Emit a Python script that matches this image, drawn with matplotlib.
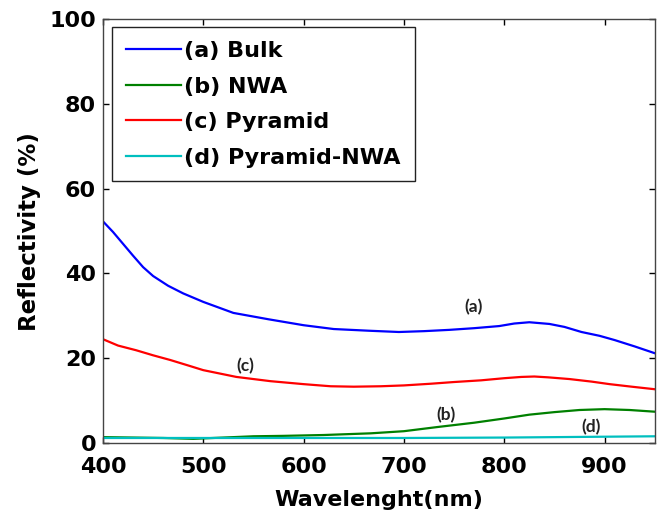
import matplotlib
matplotlib.use("Agg")
import matplotlib.pyplot as plt

# reflectivity spectra (wavelength in nm, reflectivity in %)
wl_bulk = [400, 410, 420, 430, 440, 450, 465, 480, 500, 530, 565, 600, 630, 665,
           695, 720, 745, 770, 795, 810, 825, 845, 860, 877, 895, 910, 930, 950]
r_bulk = [52.3, 49.8, 47.0, 44.2, 41.5, 39.4, 37.1, 35.3, 33.3, 30.7, 29.2, 27.8,
          26.9, 26.5, 26.2, 26.4, 26.7, 27.1, 27.6, 28.2, 28.5, 28.1, 27.4, 26.2,
          25.3, 24.3, 22.8, 21.2]

wl_pyr = [400, 415, 433, 450, 467, 485, 500, 533, 567, 600, 627, 650, 677, 700,
          727, 750, 777, 800, 817, 830, 844, 865, 887, 905, 927, 950]
r_pyr = [24.5, 23.0, 21.9, 20.7, 19.6, 18.3, 17.2, 15.6, 14.6, 13.9, 13.4, 13.3,
         13.4, 13.6, 14.0, 14.4, 14.8, 15.3, 15.6, 15.7, 15.5, 15.1, 14.5, 13.9,
         13.3, 12.7]

wl_nwa = [400, 430, 460, 490, 520, 550, 580, 620, 667, 700, 734, 770, 800, 825,
          850, 875, 900, 925, 950]
r_nwa = [1.4, 1.3, 1.2, 1.0, 1.3, 1.6, 1.7, 1.9, 2.3, 2.8, 3.8, 4.8, 5.8, 6.7,
         7.3, 7.8, 8.0, 7.8, 7.4]

wl_pn = [400, 500, 600, 700, 800, 900, 950]
r_pn = [1.2, 1.2, 1.2, 1.2, 1.3, 1.5, 1.6]

labels = ["(a) Bulk", "(b) NWA", "(c) Pyramid", "(d) Pyramid-NWA"]
colors = ["#0000ff", "#008000", "#ff0000", "#00bfbf"]

tags = ["(a)", "(b)", "(c)", "(d)"]
tag_x = [769, 742, 542, 887]
tag_y = [32.0, 6.6, 18.1, 3.8]

xticks = [400, 500, 600, 700, 800, 900]
yticks = [0, 20, 40, 60, 80, 100]

plt.rcParams["font.family"] = ["DejaVu Sans"]
plt.rcParams["font.weight"] = "bold"

fig = plt.figure(figsize=(6.6, 5.17), dpi=100)
ax = fig.add_axes([0.156, 0.143, 0.836, 0.82])

series = [(wl_bulk, r_bulk), (wl_nwa, r_nwa), (wl_pyr, r_pyr), (wl_pn, r_pn)]
for (wx, ry), lab, col in zip(series, labels, colors):
    ax.plot(wx, ry, color=col, lw=1.6, label=lab)

for t, tx, ty in zip(tags, tag_x, tag_y):
    ax.text(tx, ty, t, fontsize=12.5, fontweight="bold", family=["Lato", "DejaVu Sans"],
            ha="center", va="center", color="#222222")

ax.set_xlim(400, 950)
ax.set_ylim(0, 100)
ax.set_xticks(xticks)
ax.set_yticks(yticks)
ax.tick_params(direction="in", length=4, width=1, top=True, right=True, labelsize=16)
ax.tick_params(axis="x", pad=10)
ax.tick_params(axis="y", pad=5)
for lab in ax.get_xticklabels() + ax.get_yticklabels():
    lab.set_fontweight("bold")
for sp in ax.spines.values():
    sp.set_color("#444444")
    sp.set_linewidth(1.0)

ax.set_xlabel("Wavelenght(nm)", fontsize=16, fontweight="bold")
ax.set_ylabel("Reflectivity (%)", fontsize=16.5, fontweight="bold")
ax.xaxis.set_label_coords(0.5, -0.11)
ax.yaxis.set_label_coords(-0.112, 0.5)

leg = ax.legend(loc="upper left", bbox_to_anchor=(0.016, 0.981), borderaxespad=0,
                fontsize=16, handlelength=2.5, handletextpad=0.15, labelspacing=0.7,
                fancybox=False, edgecolor="#222222", framealpha=1, borderpad=0.62)
leg.get_frame().set_linewidth(1.0)
for t in leg.get_texts():
    t.set_fontweight("bold")

fig.savefig("out.png", dpi=100)
